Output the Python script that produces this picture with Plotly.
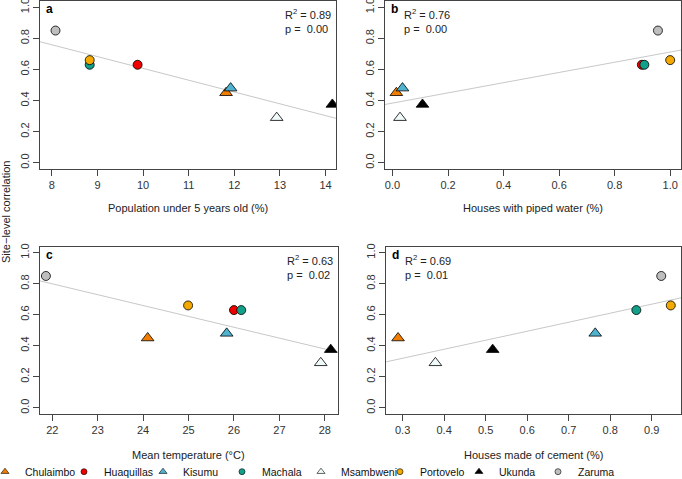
import numpy as np
import plotly.graph_objects as go

W, H = 682, 479

sites = ["Chulaimbo", "Huaquillas", "Kisumu", "Machala", "Msambweni", "Portovelo", "Ukunda", "Zaruma"]
colors = ["#F07D00", "#F00000", "#4FB3CF", "#12A08A", "#F0FAFA", "#F3A900", "#000000", "#BEBEBE"]
symbols = ["triangle-up", "circle", "triangle-up", "circle", "triangle-up", "circle", "triangle-up", "circle"]

# site-level correlation (y, same in every panel)
site_corr = [0.45, 0.63, 0.48, 0.63, 0.29, 0.66, 0.375, 0.85]

# covariates (x) per panel
pop_under5 = [11.82, 9.88, 11.92, 8.83, 12.93, 8.83, 14.15, 8.08]
piped_water = [0.014, 0.898, 0.036, 0.907, 0.027, 1.0, 0.108, 0.956]
mean_temp = [24.10, 26.0, 25.84, 26.16, 27.91, 24.99, 28.13, 21.86]
cement = [0.289, None, 0.764, 0.863, 0.379, 0.946, 0.517, 0.923]

r2_vals = ["0.89", "0.76", "0.63", "0.69"]
p_vals = ["0.00", "0.00", "0.02", "0.01"]

panels = [
    dict(key="a", x=pop_under5, title="Population under 5 years old (%)", rng=[7.74, 14.23],
         ticks=[8, 9, 10, 11, 12, 13, 14], fmt="d", dom_x=[40, 336], dom_y=[1, 169], stats_right=True),
    dict(key="b", x=piped_water, title="Houses with piped water (%)", rng=[-0.027, 1.039],
         ticks=[0, 0.2, 0.4, 0.6, 0.8, 1.0], fmt=".1f", dom_x=[385, 681], dom_y=[1, 169], stats_right=False),
    dict(key="c", x=mean_temp, title="Mean temperature (°C)", rng=[21.73, 28.29],
         ticks=[22, 23, 24, 25, 26, 27, 28], fmt="d", dom_x=[40, 338], dom_y=[246.5, 414], stats_right=True),
    dict(key="d", x=cement, title="Houses made of cement (%)", rng=[0.26, 0.9706],
         ticks=[0.3, 0.4, 0.5, 0.6, 0.7, 0.8, 0.9], fmt=".1f", dom_x=[386, 681], dom_y=[246.5, 414], stats_right=False),
]

fig = go.Figure()
annotations = []
axis_style = dict(showline=True, mirror=True, linecolor="#444444", linewidth=1, ticks="outside",
                  ticklen=6, tickcolor="#444444", showgrid=False, zeroline=False,
                  ticklabeloverflow="allow", tickfont=dict(size=11, color="#333333"))

for i, p in enumerate(panels):
    n = "" if i == 0 else str(i + 1)
    xa, ya = "x" + n, "y" + n
    xs = p["x"]

    # regression line fit through the available points
    pts = [(xv, yv) for xv, yv in zip(xs, site_corr) if xv is not None]
    fx = np.array([q[0] for q in pts])
    fy = np.array([q[1] for q in pts])
    slope, intercept = np.polyfit(fx, fy, 1)
    lx = np.array(p["rng"])
    fig.add_trace(go.Scatter(x=lx, y=intercept + slope * lx, mode="lines",
                             line=dict(color="#C8C8C8", width=1), showlegend=False,
                             hoverinfo="skip", xaxis=xa, yaxis=ya))

    for s, col, sym, xv, yv in zip(sites, colors, symbols, xs, site_corr):
        if xv is None:
            continue
        fig.add_trace(go.Scatter(
            x=[xv], y=[yv], mode="markers", name=s, legendgroup=s, showlegend=False,
            marker=dict(color=col, symbol=sym, size=11 if sym == "triangle-up" else 9,
                        line=dict(color="#000000", width=0.8)),
            xaxis=xa, yaxis=ya))

    dx = [p["dom_x"][0] / W, p["dom_x"][1] / W]
    dy = [1 - p["dom_y"][1] / H, 1 - p["dom_y"][0] / H]
    fig.layout["xaxis" + n] = dict(domain=dx, range=p["rng"], tickvals=p["ticks"], tickformat=p["fmt"],
                                   anchor=ya, **axis_style)
    fig.layout["yaxis" + n] = dict(domain=dy, range=[-0.04, 1.04], tickvals=[0, 0.2, 0.4, 0.6, 0.8, 1.0],
                                   tickformat=".1f", tickangle=-90, anchor=xa, **axis_style)

    x0, x1 = p["dom_x"]
    top = p["dom_y"][0]
    annotations.append(dict(text="<b>" + p["key"] + "</b>", x=(x0 + 9) / W, y=1 - (top + 8) / H,
                            xref="paper", yref="paper", showarrow=False, xanchor="center",
                            yanchor="middle", font=dict(size=12, color="#000000")))
    stats = "R<sup>2</sup> = " + r2_vals[i] + "<br>p =  " + p_vals[i]
    if p["stats_right"]:
        annotations.append(dict(text=stats, x=(x1 - 3) / W, y=1 - (top + 4) / H, xref="paper", yref="paper",
                                showarrow=False, xanchor="right", yanchor="top", align="left",
                                font=dict(size=11, color="#222222")))
    else:
        annotations.append(dict(text=stats, x=(x0 + 17) / W, y=1 - (top + 4) / H, xref="paper", yref="paper",
                                showarrow=False, xanchor="left", yanchor="top", align="left",
                                font=dict(size=11, color="#222222")))
    title_y = 208 if top < 100 else 455
    annotations.append(dict(text=p["title"], x=(x0 + x1) / 2 / W, y=1 - title_y / H, xref="paper",
                            yref="paper", showarrow=False, xanchor="center", yanchor="middle",
                            font=dict(size=11, color="#222222")))

# legend keys (small symbols, like the R legend)
for s, col, sym in zip(sites, colors, symbols):
    fig.add_trace(go.Scatter(x=[None], y=[None], mode="markers", name=s, legendgroup=s,
                             marker=dict(color=col, symbol=sym, size=7 if sym == "triangle-up" else 6,
                                         line=dict(color="#000000", width=0.6))))

annotations.append(dict(text="Site\u2212level correlation", x=6 / W, y=1 - 212 / H, xref="paper", yref="paper",
                        showarrow=False, textangle=-90, xanchor="center", yanchor="middle",
                        font=dict(size=11, color="#222222")))

fig.update_layout(
    width=W, height=H, margin=dict(l=0, r=0, t=0, b=0, autoexpand=False),
    paper_bgcolor="white", plot_bgcolor="white",
    font=dict(family="Liberation Sans, Arial, sans-serif", size=11, color="#222222"),
    annotations=annotations,
    legend=dict(orientation="h", x=-0.022, y=-0.015, xanchor="left", yanchor="bottom",
                entrywidth=34, entrywidthmode="pixels", itemsizing="trace", tracegroupgap=0,
                font=dict(size=10.5, color="#111111"), bgcolor="rgba(0,0,0,0)"),
)

fig.write_html("out.html", config={"displayModeBar": False},
               post_script="document.body.style.margin='0';")
